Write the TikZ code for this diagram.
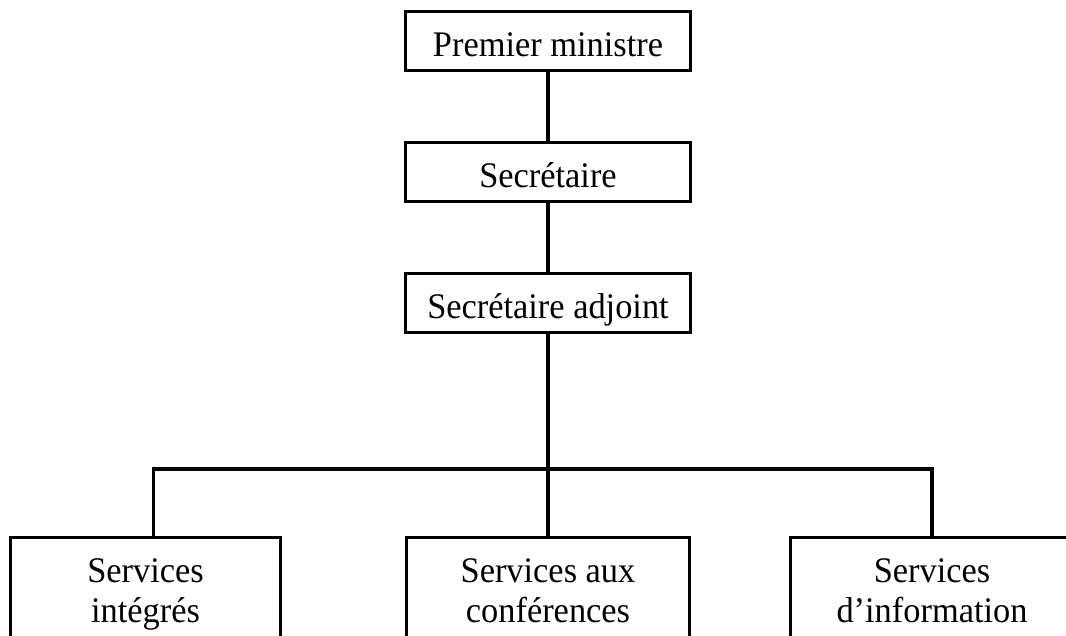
\documentclass[tikz,border=0pt]{standalone}
\usepackage{fontspec}
\setmainfont[FakeStretch=0.955]{Liberation Serif}
\usetikzlibrary{positioning}

\tikzset{
  orgfont/.style={font=\fontsize{36}{40}\selectfont},
  unitbox/.style={draw, line width=3.3pt, orgfont, inner sep=0pt,
    minimum width=284.7pt, minimum height=58.7pt,
    text height=31pt, text depth=0pt},
  servbox/.style={draw, line width=3.3pt, orgfont, inner sep=0pt,
    minimum height=114.6pt, anchor=north, align=center},
  link/.style={line width=3.3pt}
}

\begin{document}
\begin{tikzpicture}[x=1pt,y=1pt,node distance=69pt]
% Frame
\useasboundingbox (0,0) rectangle (1066,-636);
\clip (0,0) rectangle (1066,-636);
% Chain of command
\node[unitbox] (pm) at (548,-41) {Premier ministre};
\node[unitbox, below=of pm] (sec) {Secrétaire};
\node[unitbox, below=of sec] (adj) {Secrétaire adjoint};
% Services
\node[servbox, minimum width=269.7pt] (integ) at (145.5,-536) {\strut Services\\\strut intégrés};
\node[servbox, minimum width=282.7pt] (conf) at (548,-536) {\strut Services aux\\\strut conférences};
\node[servbox, minimum width=282.7pt] (info) at (932,-536) {\strut Services\\\strut d’information};
% Links
\coordinate (bus) at (548,-469);
\draw[link] (pm) -- (sec);
\draw[link] (sec) -- (adj);
\draw[link] (adj) -- (bus) -- (conf);
\draw[link] ([xshift=7.8pt]integ.north) |- (bus) -| (info.north);
\end{tikzpicture}
\end{document}
